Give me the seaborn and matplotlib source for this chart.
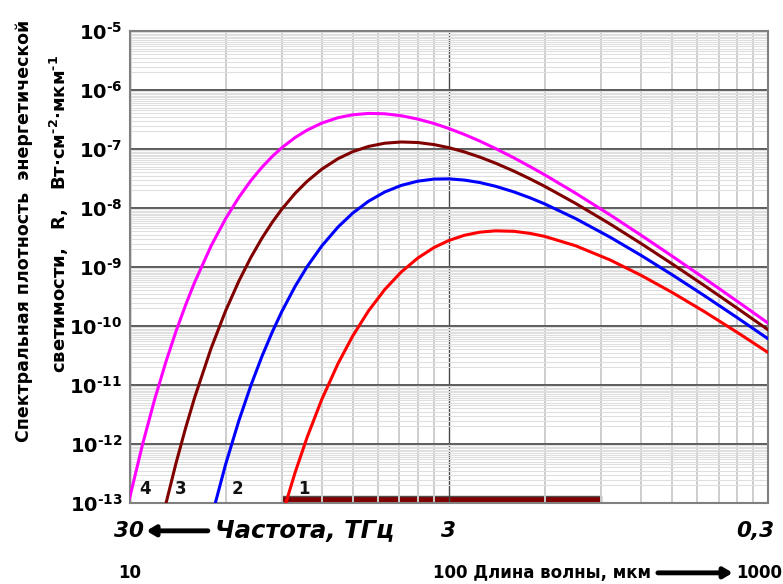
import numpy as np
import pandas as pd
import matplotlib
matplotlib.use("Agg")
import matplotlib.pyplot as plt
import seaborn as sns
from matplotlib.ticker import LogLocator, NullFormatter

# ---------------- data ----------------
wavelength_um = [10, 11, 12, 13, 14, 15, 16, 18, 20, 22, 24, 26, 28, 30, 33, 36,
                 40, 45, 50, 56, 63, 71, 80, 90, 100, 112, 125, 140, 160, 180,
                 200, 250, 320, 400, 500, 630, 800, 1000]
nan = np.nan
# log10 of spectral exitance R, W cm^-2 um^-1
lgR_curve4 = [-12.924, -11.995, -11.237, -10.609, -10.083, -9.639, -9.258, -8.646,
              -8.181, -7.820, -7.535, -7.309, -7.126, -6.978, -6.806, -6.680,
              -6.561, -6.469, -6.420, -6.397, -6.403, -6.436, -6.493, -6.568,
              -6.652, -6.754, -6.865, -6.991, -7.150, -7.300, -7.439, -7.751,
              -8.116, -8.460, -8.813, -9.186, -9.579, -9.950]
lgR_curve3 = [nan, nan, -13.841, -13.013, -12.316, -11.722, -11.211, -10.382,
              -9.743, -9.240, -8.837, -8.510, -8.242, -8.020, -7.753, -7.548,
              -7.343, -7.164, -7.046, -6.957, -6.902, -6.881, -6.890, -6.926,
              -6.977, -7.050, -7.136, -7.239, -7.375, -7.508, -7.634, -7.924,
              -8.270, -8.601, -8.944, -9.310, -9.697, -10.063]
lgR_curve2 = [nan, nan, nan, nan, nan, nan, -14.465, -13.275,
              -12.346, -11.607, -11.007, -10.513, -10.102, -9.755, -9.331, -8.994,
              -8.645, -8.322, -8.088, -7.887, -7.729, -7.617, -7.545, -7.510,
              -7.506, -7.527, -7.568, -7.631, -7.727, -7.829, -7.932, -8.181,
              -8.494, -8.802, -9.129, -9.481, -9.857, -10.216]
lgR_curve1 = [nan, nan, nan, nan, nan, nan, nan, nan,
              nan, nan, nan, nan, -13.821, -13.226, -12.487, -11.887,
              -11.248, -10.636, -10.171, -9.747, -9.383, -9.084, -8.848, -8.669,
              -8.551, -8.462, -8.410, -8.387, -8.395, -8.431, -8.482, -8.641,
              -8.880, -9.140, -9.429, -9.752, -10.106, -10.449]

curve_names = ["4", "3", "2", "1"]
curve_colors = {"4": "#FF00FF", "3": "#800000", "2": "#0000FF", "1": "#FF0000"}
curve_label_x = [11.2, 14.5, 21.8, 35.2]
curve_label_y = 1.73e-13

thz_band_um = [30, 300]
thz_band_R = [1.0e-13, 1.33e-13]

ytick_values = [1e-13, 1e-12, 1e-11, 1e-10, 1e-9, 1e-8, 1e-7, 1e-6, 1e-5]
ytick_labels = [r"$10^{\text{-13}}$", r"$10^{\text{-12}}$", r"$10^{\text{-11}}$",
                r"$10^{\text{-10}}$", r"$10^{\text{-9}}$", r"$10^{\text{-8}}$",
                r"$10^{\text{-7}}$", r"$10^{\text{-6}}$", r"$10^{\text{-5}}$"]
freq_tick_pos = [10, 100, 1045]
freq_tick_labels = ["30", "3", "0,3"]
wl_tick_pos = [10, 89.3, 1105]
wl_tick_labels = ["10", "100 Длина волны, мкм", "1000"]

# ---------------- styling ----------------
sns.set_style("white")
plt.rcParams["font.family"] = ["DejaVu Sans"]
plt.rcParams.update({
    "text.color": "black",
    "ytick.color": "black",
    "xtick.color": "black",
    "mathtext.fontset": "custom",
    "mathtext.rm": "DejaVu Sans:bold",
    "mathtext.bf": "DejaVu Sans:bold",
    "mathtext.it": "DejaVu Sans:bold:italic",
    "mathtext.sf": "DejaVu Sans:bold",
    "mathtext.default": "bf",
})

rows = []
for name, lg in zip(curve_names, [lgR_curve4, lgR_curve3, lgR_curve2, lgR_curve1]):
    for lam, v in zip(wavelength_um, lg):
        rows.append({"lam": lam, "R": 10.0 ** v, "curve": name})
df = pd.DataFrame(rows).dropna()

fig = plt.figure(figsize=(7.83, 5.84), dpi=100)
ax = fig.add_axes([129.5 / 783, 1 - 503 / 584, 638.5 / 783, 472 / 584])

ax.set_xscale("log")
ax.set_yscale("log")

# THz band bar
ax.fill_between(thz_band_um, thz_band_R[0], thz_band_R[1], color="#800000",
                edgecolor="#505050", lw=1.0, zorder=0.3)

sns.lineplot(data=df, x="lam", y="R", hue="curve", hue_order=curve_names,
             palette=curve_colors, legend=False, estimator=None, sort=False,
             lw=2.2, ax=ax, zorder=3)

ax.set_xlim(10, 1000)
ax.set_ylim(1e-13, 1e-5)
ax.set_xlabel("")
ax.set_ylabel("")

ax.set_xticks([10, 100, 1000])
ax.set_xticklabels([])
ax.xaxis.set_minor_locator(LogLocator(base=10, subs=np.arange(2, 10), numticks=50))
ax.xaxis.set_minor_formatter(NullFormatter())
ax.set_yticks(ytick_values)
ax.set_yticklabels(ytick_labels)
ax.yaxis.set_minor_locator(LogLocator(base=10, subs=np.arange(2, 10, 0.5), numticks=200))
ax.yaxis.set_minor_formatter(NullFormatter())
ax.tick_params(which="both", length=0)
ax.tick_params(axis="y", labelsize=14, pad=5, labelcolor="black")

ax.set_axisbelow(True)
ax.grid(which="minor", axis="y", color="#dfdfdf", lw=0.8)
ax.grid(which="major", axis="y", color="#5a5a5a", lw=1.4)
ax.grid(which="minor", axis="x", color="#cdcdcd", lw=1.4)
ax.grid(which="major", axis="x", color="#4a4a4a", lw=1.0)
for s in ax.spines.values():
    s.set_color("#808080")
    s.set_linewidth(1.5)

# curve numbers
for name, xl in zip(curve_names, curve_label_x):
    ax.text(xl, curve_label_y, name, ha="center", va="center", fontsize=12,
            fontweight="bold", color="#111111", zorder=4)

# bottom scales
trans = ax.get_xaxis_transform()
y1, y2 = -0.059, -0.148
for pos, lab, ha in zip(freq_tick_pos, freq_tick_labels, ["center", "center", "right"]):
    ax.text(pos, y1, lab, transform=trans, ha=ha, va="center", fontsize=15.5,
            fontweight="bold", style="italic")
ax.text(18.5, y1, "Частота, ТГц", transform=trans, ha="left", va="center",
        fontsize=17.5, fontweight="bold", style="italic")
ax.annotate("", xy=(11.3, y1), xytext=(17.6, y1), xycoords=trans, textcoords=trans,
            arrowprops=dict(arrowstyle="-|>,head_length=0.5,head_width=0.3", lw=3.5,
                            color="black", shrinkA=0, shrinkB=0),
            annotation_clip=False)

for pos, lab, ha in zip(wl_tick_pos, wl_tick_labels, ["center", "left", "right"]):
    ax.text(pos, y2, lab, transform=trans, ha=ha, va="center", fontsize=12,
            fontweight="bold")
ax.annotate("", xy=(775, y2), xytext=(452, y2), xycoords=trans, textcoords=trans,
            arrowprops=dict(arrowstyle="-|>,head_length=0.5,head_width=0.3", lw=3.5,
                            color="black", shrinkA=0, shrinkB=0),
            annotation_clip=False)

# y label (two lines)
fig.text(24 / 783, 1 - 231 / 584, "Спектральная плотность  энергетической",
         rotation=90, ha="center", va="center", fontsize=12.5, fontweight="bold")
fig.text(59 / 783, 1 - 214 / 584,
         r"светимости,   R,   Вт·см$^{\text{-2}}$·мкм$^{\text{-1}}$",
         rotation=90, ha="center", va="center", fontsize=13, fontweight="bold")

fig.savefig("out.png", dpi=100)
